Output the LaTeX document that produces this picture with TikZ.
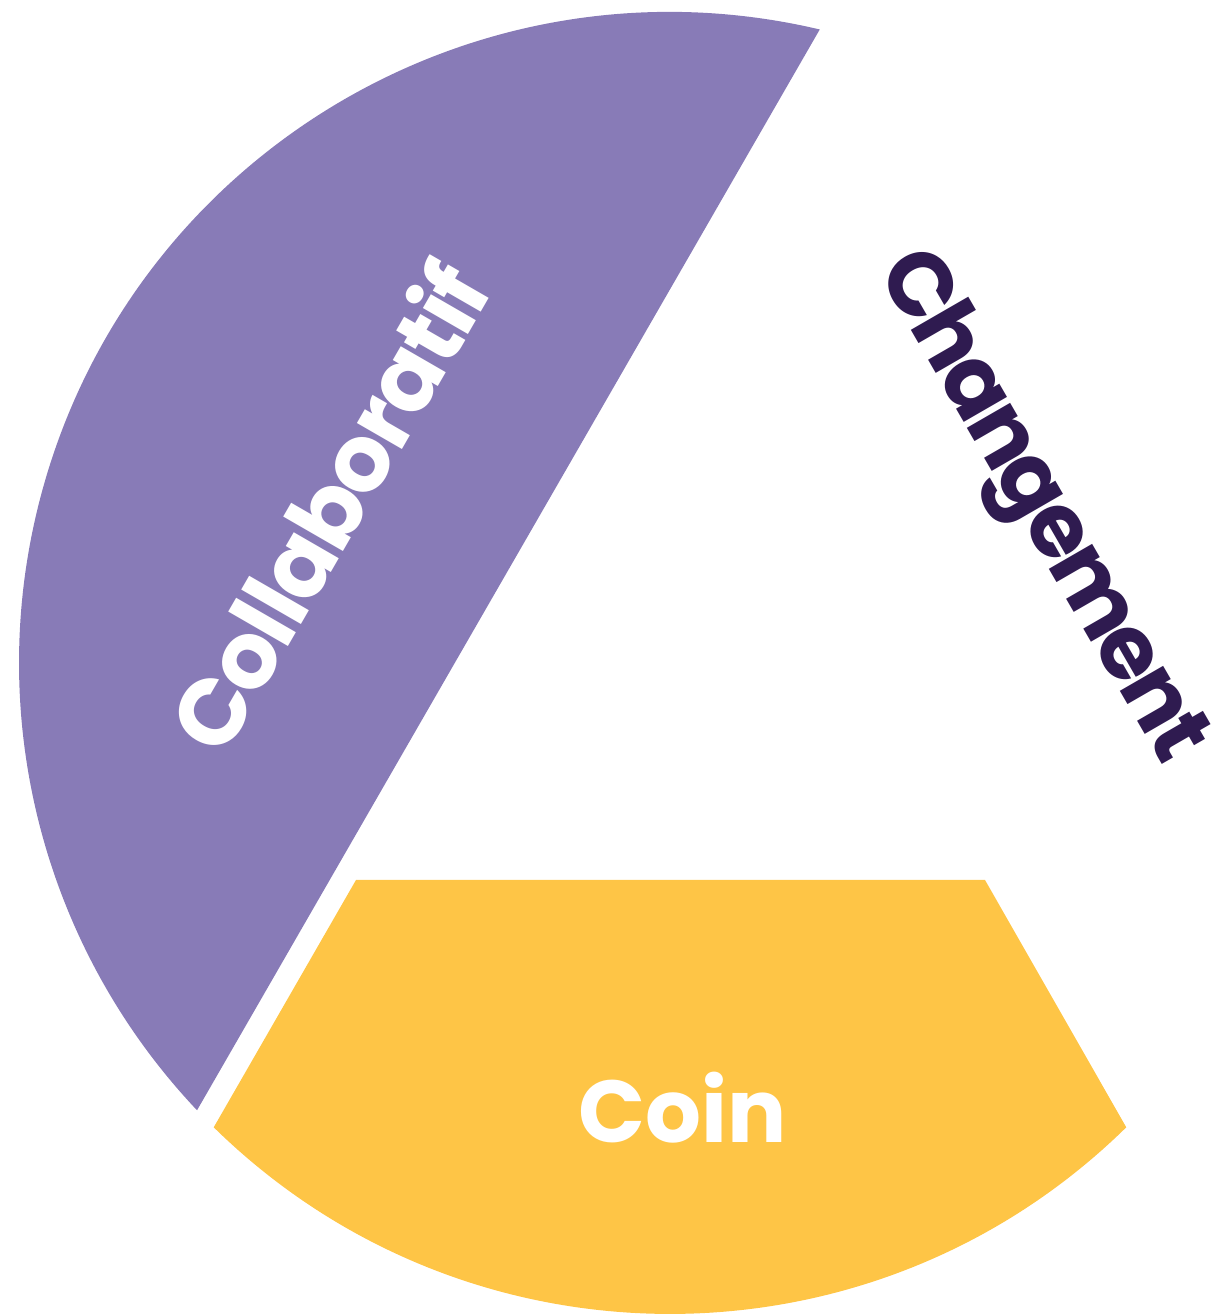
\documentclass[tikz,border=0pt]{standalone}
\usepackage{fontspec}
\setmainfont{Poppins}
\definecolor{lavender}{HTML}{887BB7}
\definecolor{saffron}{HTML}{FEC546}
\definecolor{aubergine}{HTML}{2F1B50}
\begin{document}
\begin{tikzpicture}[x=0.01cm, y=0.01cm, word/.style = {inner sep=0, font=\fontsize{25pt}{30}\selectfont\bfseries}]
  \useasboundingbox (0, 0) rectangle (1217, 1314);
  \coordinate (Centre) at (670, 651);

  % Segments.
  \fill [lavender] (Centre) ++(76.7:651)
        arc [start angle=76.7, end angle=223.4, radius=651]
        -- cycle;
  \fill [saffron] (Centre) ++(225.5:651)
        arc [start angle=225.5, end angle=314.5, radius=651]
        -- (985, 434) -- (356, 434) -- cycle;

  % Words.
  \node at (327, 808) [word, white, rotate=60, font=\fontsize{26.5pt}{30}\selectfont\bfseries\addfontfeatures{LetterSpace=-3}, name=Collaboratif] {Collaboratif};
  \node at (1038, 806) [word, aubergine, rotate=-60, font=\fontsize{25.5pt}{30}\selectfont\bfseries\addfontfeatures{LetterSpace=-5}, name=Changement] {Changement};
  \node at (683, 172) [word, white, anchor=base, name=Coin] {Coin};
\end{tikzpicture}
\end{document}
